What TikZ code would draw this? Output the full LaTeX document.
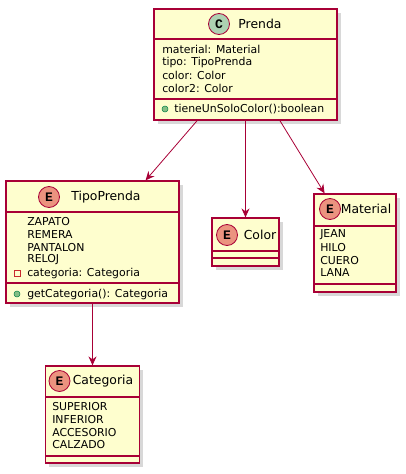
\documentclass[tikz,border=0pt]{standalone}
\usepackage{fontspec}
\setmainfont{DejaVu Sans}
\newfontfamily\badgefont{Liberation Mono}
\usetikzlibrary{arrows.meta,shadows}
\definecolor{umlfill}{HTML}{FEFECE}
\definecolor{umlline}{HTML}{A80036}
\definecolor{circC}{HTML}{ADD1B2}
\definecolor{circE}{HTML}{EB937F}
\definecolor{pubgreen}{HTML}{84BE84}
\definecolor{pubedge}{HTML}{038048}
\definecolor{privred}{HTML}{C82930}
\tikzset{
    >={Stealth[length=9pt,width=8pt,inset=3pt]},
    every picture/.style={line width=0.5pt},
    classbox/.style={draw=umlline,fill=umlfill,line width=1.2pt,inner sep=0pt,
        drop shadow={shadow xshift=3.5pt,shadow yshift=-3.5pt,fill=black!30}},
    divider/.style={draw=umlline,line width=1.2pt},
    badge/.style={circle,draw=umlline,fill=#1,minimum size=21pt,inner sep=0pt,
        line width=0.8pt,font=\badgefont\bfseries\fontsize{13}{13}\selectfont},
    title/.style={inner sep=0pt,font=\fontsize{12.4}{14}\selectfont},
    member/.style={anchor=west,inner sep=0pt,font=\fontsize{10.9}{13}\selectfont},
    pub/.style={circle,draw=pubedge,fill=pubgreen,minimum size=6pt,inner sep=0pt,line width=0.5pt},
    priv/.style={rectangle,draw=privred,fill=none,minimum size=6pt,inner sep=0pt,line width=0.8pt},
    assoc/.style={->,draw=umlline,line width=0.8pt}
}
\begin{document}
\begin{tikzpicture}[x=1pt,y=-1pt]
        \useasboundingbox (0,0) rectangle (406,474);

        % Prenda
        \node[classbox,minimum width=183pt,minimum height=111pt] (prenda) at (245.5,64.5) {};
        \draw[divider] (154,39) -- (337,39);
        \draw[divider] (154,99) -- (337,99);
        \node[badge=circC] (prendaB) at (219,24) {C};
        \node[title] (prendaT) at (260,24) {Prenda};
        \node[member] (prenda1) at (162,49) {material: Material};
        \node[member] (prenda2) at (162,62) {tipo: TipoPrenda};
        \node[member] (prenda3) at (162,75) {color: Color};
        \node[member] (prenda4) at (162,88) {color2: Color};
        \node[pub] (prendaM) at (165,109) {};
        \node[member] (prenda5) at (174,109) {tieneUnSoloColor():boolean};

        % TipoPrenda
        \node[classbox,minimum width=173pt,minimum height=122pt] (tipoprenda) at (92.5,242) {};
        \draw[divider] (6,212) -- (179,212);
        \draw[divider] (6,283) -- (179,283);
        \node[badge=circE] (tipoB) at (49,197) {E};
        \node[title] (tipoT) at (106,197) {TipoPrenda};
        \node[member] (tipo1) at (27,222) {ZAPATO};
        \node[member] (tipo2) at (27,235) {REMERA};
        \node[member] (tipo3) at (27,248) {PANTALON};
        \node[member] (tipo4) at (27,260) {RELOJ};
        \node[priv] (tipoP) at (17,273) {};
        \node[member] (tipo5) at (27,273) {categoria: Categoria};
        \node[pub] (tipoM) at (17,294) {};
        \node[member] (tipo6) at (27,294) {getCategoria(): Categoria};

        % Color
        \node[classbox,minimum width=67pt,minimum height=48pt] (color) at (245.5,242) {};
        \draw[divider] (212,251) -- (279,251);
        \draw[divider] (212,258) -- (279,258);
        \node[badge=circE] (colorB) at (227,235) {E};
        \node[title] (colorT) at (260,235) {Color};

        % Material
        \node[classbox,minimum width=82pt,minimum height=98pt] (material) at (355,243) {};
        \draw[divider] (314,226) -- (396,226);
        \draw[divider] (314,284) -- (396,284);
        \node[badge=circE] (materialB) at (330,209) {E};
        \node[title] (materialT) at (366,209) {Material};
        \node[member] (material1) at (320,235) {JEAN};
        \node[member] (material2) at (320,248) {HILO};
        \node[member] (material3) at (320,261) {CUERO};
        \node[member] (material4) at (320,273) {LANA};

        % Categoria
        \node[classbox,minimum width=94pt,minimum height=97pt] (categoria) at (92.5,414.5) {};
        \draw[divider] (45.5,397) -- (139.5,397);
        \draw[divider] (45.5,456) -- (139.5,456);
        \node[badge=circE] (categoriaB) at (59.5,381) {E};
        \node[title] (categoriaT) at (103,381) {Categoria};
        \node[member] (categoria1) at (52,407) {SUPERIOR};
        \node[member] (categoria2) at (52,420) {INFERIOR};
        \node[member] (categoria3) at (52,433) {ACCESORIO};
        \node[member] (categoria4) at (52,445) {CALZADO};

        % Associations
        \draw[assoc] (prenda) -- (tipoprenda);
        \draw[assoc] (prenda) -- (color);
        \draw[assoc] (prenda) -- (material);
        \draw[assoc] (tipoprenda) -- (categoria);
    \end{tikzpicture}
\end{document}
